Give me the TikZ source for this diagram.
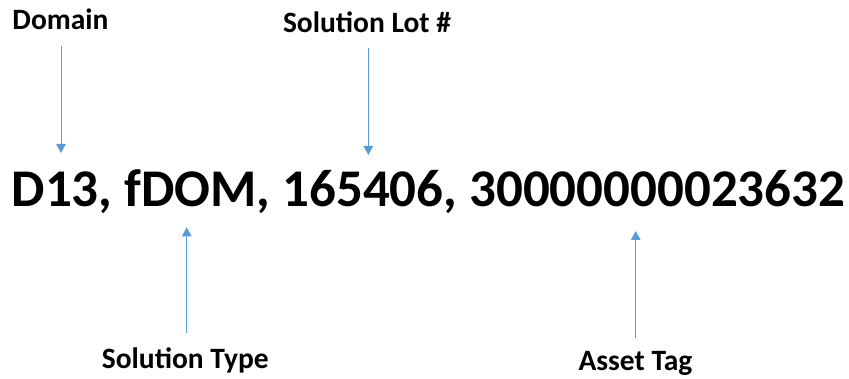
\documentclass[tikz,border=0pt]{standalone}
\usepackage{fontspec}
\setmainfont{Carlito}
\usetikzlibrary{arrows.meta}
\definecolor{arrowblue}{HTML}{5B9BD5}
\tikzset{
  lbl/.style={inner sep=0pt, anchor=base, font=\fontsize{29.5}{32}\selectfont\bfseries},
  mainlbl/.style={inner sep=0pt, anchor=base, font=\fontsize{53}{60}\selectfont\bfseries},
  arr/.style={draw=arrowblue, line width=1pt, -{Triangle[length=9pt,width=9.5pt]}, arrowblue}
}
\begin{document}
\begin{tikzpicture}[x=1pt,y=-1pt]
\useasboundingbox (0,0) rectangle (849,379);
\node[lbl] (dom) at (60.5,30) {Domain};
\node[lbl] (lot) at (367,33) {Solution Lot \#};
\node[mainlbl] (code) at (428.5,207) {D13, fDOM, 165406, 30000000023632};
\node[lbl] (stype) at (185.3,368) {Solution Type};
\node[lbl] (asset) at (635.5,370.5) {Asset Tag};
\coordinate (domA) at (61,45.7);
\coordinate (domB) at (61,153);
\coordinate (lotA) at (368.3,48);
\coordinate (lotB) at (368.3,155);
\coordinate (stA) at (186.7,333.3);
\coordinate (stB) at (186.7,227.3);
\coordinate (atA) at (635.7,338.3);
\coordinate (atB) at (635.7,231);
\draw[arr] (domA) -- (domB);
\draw[arr] (lotA) -- (lotB);
\draw[arr] (stA) -- (stB);
\draw[arr] (atA) -- (atB);
\end{tikzpicture}
\end{document}
